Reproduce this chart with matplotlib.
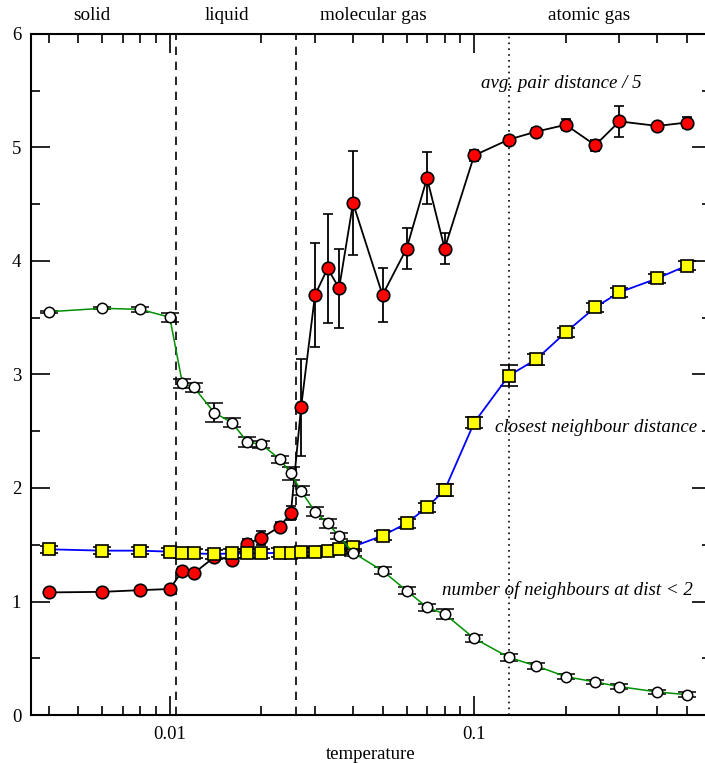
import matplotlib
matplotlib.use("Agg")
import matplotlib.pyplot as plt
from matplotlib.ticker import FixedLocator, NullFormatter, FixedFormatter, MultipleLocator

plt.rcParams['font.family'] = ['Liberation Serif', 'DejaVu Serif']

# temperatures of the runs
temp = [0.004, 0.006, 0.008, 0.01, 0.011, 0.012, 0.014, 0.016, 0.018, 0.02,
        0.023, 0.025, 0.027, 0.03, 0.033, 0.036, 0.04, 0.05, 0.06, 0.07,
        0.08, 0.1, 0.13, 0.16, 0.2, 0.25, 0.3, 0.4, 0.5]

# avg. pair distance / 5
pair = [1.08, 1.085, 1.10, 1.11, 1.27, 1.25, 1.39, 1.37, 1.51, 1.56,
        1.66, 1.78, 2.71, 3.70, 3.935, 3.76, 4.51, 3.70, 4.11, 4.73,
        4.11, 4.93, 5.07, 5.14, 5.20, 5.02, 5.23, 5.19, 5.22]
pair_err = [0.02, 0.02, 0.02, 0.02, 0.03, 0.03, 0.03, 0.03, 0.04, 0.06,
            0.04, 0.06, 0.43, 0.46, 0.48, 0.35, 0.46, 0.24, 0.18, 0.23,
            0.14, 0.05, 0.03, 0.03, 0.05, 0.05, 0.14, 0.03, 0.05]

# closest neighbour distance
closest = [1.46, 1.448, 1.448, 1.439, 1.424, 1.424, 1.418, 1.424, 1.424, 1.424,
           1.43, 1.43, 1.432, 1.439, 1.448, 1.46, 1.483, 1.58, 1.689, 1.83,
           1.982, 2.576, 2.99, 3.134, 3.372, 3.592, 3.724, 3.847, 3.96]
closest_err = [0.03, 0.03, 0.03, 0.03, 0.04, 0.04, 0.04, 0.04, 0.04, 0.04,
               0.04, 0.04, 0.04, 0.04, 0.04, 0.04, 0.04, 0.04, 0.04, 0.04,
               0.05, 0.05, 0.09, 0.05, 0.04, 0.04, 0.04, 0.04, 0.04]

# number of neighbours at dist < 2
neigh = [3.553, 3.583, 3.574, 3.504, 2.922, 2.887, 2.664, 2.576, 2.405, 2.385,
         2.253, 2.129, 1.974, 1.791, 1.689, 1.577, 1.430, 1.271, 1.095, 0.949,
         0.89, 0.676, 0.508, 0.432, 0.338, 0.291, 0.25, 0.203, 0.179]
neigh_err = [0.01, 0.01, 0.02, 0.04, 0.04, 0.04, 0.085, 0.04, 0.04, 0.03,
             0.03, 0.06, 0.04, 0.04, 0.04, 0.03, 0.03, 0.03, 0.03, 0.03,
             0.04, 0.03, 0.03, 0.03, 0.02, 0.02, 0.02, 0.02, 0.02]

phase_bounds = [0.0105, 0.026]
dissoc = 0.13
phases = ["solid", "liquid", "molecular gas", "atomic gas"]
phase_x = [92, 227, 373, 589]   # label centres in pixels

W, H = 705, 763
fig = plt.figure(figsize=(W / 100, H / 100), dpi=100)
ax = fig.add_axes([31 / W, 48 / H, 680 / W, 681 / H])

for b in phase_bounds:
    ax.axvline(b, color='k', lw=1.2, ls=(0, (5, 4)), zorder=1)
ax.axvline(dissoc, color='k', lw=1.2, ls=(0, (1, 2.5)), zorder=1)

ax.errorbar(temp, pair, yerr=pair_err, fmt='-o', color='k', lw=1.3,
            mfc='red', mec='k', mew=1.2, ms=9, ecolor='k', elinewidth=1.3,
            capsize=3.8, capthick=1.3, zorder=3)
ax.errorbar(temp, closest, yerr=closest_err, fmt='-s', color='blue', lw=1.3,
            mfc='yellow', mec='k', mew=1.2, ms=8.5, ecolor='k', elinewidth=1.3,
            capsize=6.5, capthick=1.3, zorder=4)
ax.errorbar(temp, neigh, yerr=neigh_err, fmt='-o', color='#009000', lw=1.1,
            mfc='white', mec='k', mew=1.1, ms=7.5, ecolor='k', elinewidth=1.3,
            capsize=6.5, capthick=1.3, zorder=5)

ax.set_xscale('log')
ax.set_xlim(0.0035, 0.6)
ax.set_ylim(0, 6)

ax.xaxis.set_major_locator(FixedLocator([0.01, 0.1]))
ax.xaxis.set_major_formatter(FixedFormatter(["0.01", "0.1"]))
minors = [k * 10.0 ** e for e in (-3, -2, -1) for k in range(2, 10)]
ax.xaxis.set_minor_locator(FixedLocator(minors))
ax.xaxis.set_minor_formatter(NullFormatter())
ax.yaxis.set_major_locator(MultipleLocator(1))
ax.yaxis.set_minor_locator(MultipleLocator(0.5))

ax.tick_params(which='both', direction='in', top=True, right=True, width=1.2,
               labelsize=13.5, colors='k')
ax.tick_params(which='major', length=13.5, pad=8)
ax.tick_params(which='minor', length=6.5)
ax.tick_params(axis='y', pad=7)
for s in ax.spines.values():
    s.set_linewidth(1.5)

ax.set_xlabel("temperature", fontsize=13.5, labelpad=2)

fig.text(642 / W, 1 - 83 / H, "avg. pair distance / 5", style='italic',
         fontsize=13.6, ha='right', va='center')
fig.text(697 / W, 1 - 427 / H, "closest neighbour distance", style='italic',
         fontsize=13.6, ha='right', va='center')
fig.text(693 / W, 1 - 590 / H, "number of neighbours at dist < 2", style='italic',
         fontsize=13.6, ha='right', va='center')

for name, px in zip(phases, phase_x):
    fig.text(px / W, 1 - 16 / H, name, fontsize=13.8, ha='center', va='center')

fig.savefig("out.png", dpi=100)
